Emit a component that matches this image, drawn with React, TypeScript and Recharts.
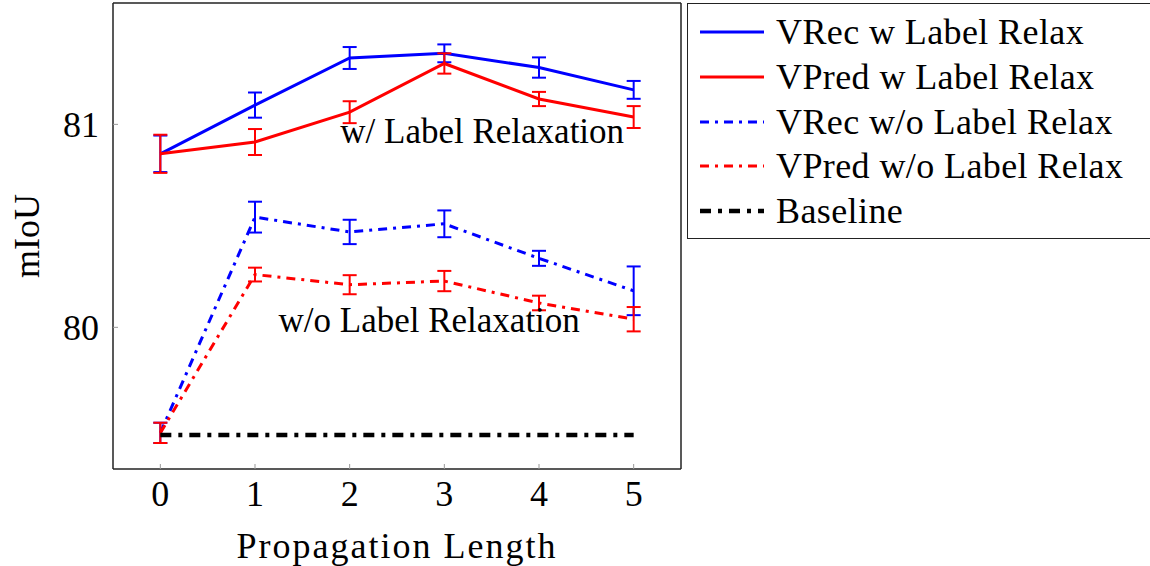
import React from 'react';
import { LineChart, Line, XAxis, YAxis, ErrorBar, ReferenceDot } from 'recharts';

const FONT = 'Liberation Serif, DejaVu Serif, serif';

// propagation length on x
const steps = [0, 1, 2, 3, 4, 5];
const xTicks = [0, 1, 2, 3, 4, 5];
const yTicks = [80, 81];

const vrecWith = [80.855, 81.095, 81.327, 81.35, 81.28, 81.17];
const vrecWithErr = [0.09, 0.062, 0.054, 0.044, 0.05, 0.044];
const vpredWith = [80.855, 80.913, 81.06, 81.3, 81.125, 81.036];
const vpredWithErr = [0.094, 0.064, 0.054, 0.05, 0.035, 0.054];
const vrecWithout = [79.48, 80.543, 80.47, 80.51, 80.34, 80.18];
const vrecWithoutErr = [0.05, 0.076, 0.06, 0.066, 0.037, 0.12];
const vpredWithout = [79.48, 80.26, 80.21, 80.228, 80.12, 80.04];
const vpredWithoutErr = [0.05, 0.034, 0.047, 0.05, 0.036, 0.06];
const baseline = [79.47, 79.47, 79.47, 79.47, 79.47, 79.47];

const data = steps.map((s, i) => ({
  step: s,
  vrecWith: vrecWith[i],
  vrecWithErr: vrecWithErr[i],
  vpredWith: vpredWith[i],
  vpredWithErr: vpredWithErr[i],
  vrecWithout: vrecWithout[i],
  vrecWithoutErr: vrecWithoutErr[i],
  vpredWithout: vpredWithout[i],
  vpredWithoutErr: vpredWithoutErr[i],
  baseline: baseline[i],
}));

const series = [
  { key: 'vrecWith', err: 'vrecWithErr', name: 'VRec w Label Relax', color: '#0000ff', dash: undefined, width: 3 },
  { key: 'vpredWith', err: 'vpredWithErr', name: 'VPred w Label Relax', color: '#ff0000', dash: undefined, width: 3 },
  { key: 'vrecWithout', err: 'vrecWithoutErr', name: 'VRec w/o Label Relax', color: '#0000ff', dash: '9 6 3 6', width: 3 },
  { key: 'vpredWithout', err: 'vpredWithoutErr', name: 'VPred w/o Label Relax', color: '#ff0000', dash: '9 6 3 6', width: 3 },
  { key: 'baseline', err: undefined, name: 'Baseline', color: '#000000', dash: '11 7 4 7', width: 4.5 },
];

const annotations = [
  { x: 3.4, y: 80.97, text: 'w/ Label Relaxation' },
  { x: 2.84, y: 80.036, text: 'w/o Label Relaxation' },
];

const frame = { stroke: '#222', strokeWidth: 1.5 };
const tickMark = { stroke: '#999', strokeWidth: 1 };
const tickText = { fill: '#000', fontSize: 36, fontFamily: FONT };

const YTitle = ({ viewBox }: any) => {
  const cx = viewBox.x + 27;
  const cy = viewBox.y + viewBox.height / 2;
  return (
    <text x={cx} y={cy} transform={`rotate(-90 ${cx} ${cy})`} textAnchor="middle"
      dominantBaseline="central" fontSize={36} fontFamily={FONT} fill="#000">mIoU</text>
  );
};

const XTitle = ({ viewBox }: any) => (
  <text x={viewBox.x + viewBox.width / 2} y={viewBox.y + 89} textAnchor="middle"
    fontSize={36} fontFamily={FONT} letterSpacing={2} fill="#000">Propagation Length</text>
);

const LegendBox = () => (
  <div style={{
    position: 'absolute', left: 687, top: 3, width: 520, height: 236, boxSizing: 'border-box',
    border: '1.5px solid #222', background: '#fff', paddingTop: 6,
  }}>
    {series.map((s) => (
      <div key={s.key} style={{ display: 'flex', alignItems: 'center', height: 44.7, paddingLeft: 12 }}>
        <svg width={64} height={10} style={{ flex: 'none' }}>
          <line x1={0} y1={5} x2={64} y2={5} stroke={s.color} strokeWidth={s.width}
            strokeDasharray={s.dash} />
        </svg>
        <span style={{ marginLeft: 12, fontSize: 36, fontFamily: FONT, color: '#000', whiteSpace: 'nowrap', letterSpacing: 0.4 }}>
          {s.name}
        </span>
      </div>
    ))}
  </div>
);

export default function App() {
  return (
    <div style={{ position: 'absolute', left: 0, top: 0, width: 1150, height: 566, overflow: 'hidden', background: '#fff', fontFamily: FONT }}>
      <LineChart width={1150} height={566} data={data} margin={{ top: 2, right: 468, bottom: 0, left: 0 }}>
        <XAxis dataKey="step" type="number" domain={[-0.5, 5.5]} ticks={xTicks} height={97}
          axisLine={frame} tickLine={tickMark} tickSize={-5} tickMargin={16} tick={tickText}
          label={<XTitle />} />
        <XAxis xAxisId="top" orientation="top" dataKey="step" type="number" domain={[-0.5, 5.5]}
          ticks={xTicks} height={1} axisLine={frame} tickLine={tickMark} tickSize={-5} tick={false} />
        <YAxis type="number" domain={[79.302, 81.598]} ticks={yTicks} width={113}
          axisLine={frame} tickLine={tickMark} tickSize={-5} tickMargin={19} tick={tickText}
          label={<YTitle />} />
        <YAxis yAxisId="right" orientation="right" type="number" domain={[79.302, 81.598]} ticks={yTicks}
          width={1} axisLine={frame} tickLine={tickMark} tickSize={-5} tick={false} />
        {series.map((s) => (
          <Line key={s.key} type="linear" dataKey={s.key} stroke={s.color} strokeWidth={s.width}
            strokeDasharray={s.dash} dot={false} activeDot={false} isAnimationActive={false}>
            {s.err && (
              <ErrorBar dataKey={s.err} direction="y" width={7} stroke={s.color} strokeWidth={2}
                isAnimationActive={false} />
            )}
          </Line>
        ))}
        {annotations.map((a) => (
          <ReferenceDot key={a.text} x={a.x} y={a.y} r={0} fill="none" stroke="none" ifOverflow="visible"
            label={{ value: a.text, position: 'center', fill: '#000', fontSize: 35, fontFamily: FONT }} />
        ))}
      </LineChart>
      <LegendBox />
    </div>
  );
}
